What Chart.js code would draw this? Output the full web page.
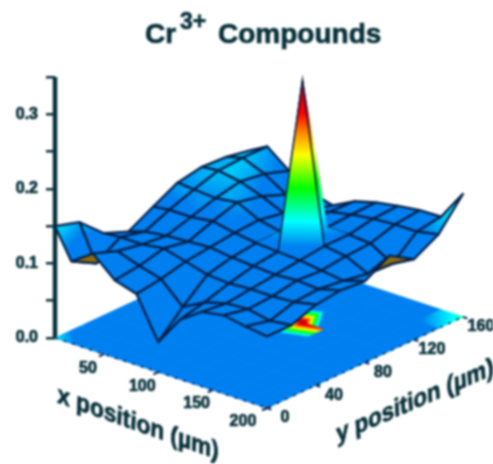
<!DOCTYPE html>
<html lang="en">

<head>
    <meta charset="UTF-8">
    <title>Cr3+ Compounds</title>
    <script src="https://cdn.jsdelivr.net/npm/chart.js"></script>
    <style>
        html, body { margin: 0; padding: 0; background: #fff; }
        canvas { display: block; filter: blur(0.8px); }
    </style>
</head>

<body>
    <canvas id="myChart" width="493" height="464"></canvas>

    <script>
        // values
        const xPositions = [5, 20, 40, 60, 80, 100, 120, 140, 160, 180, 200]
        const yPositions = [0, 20, 40, 60, 80, 100, 120, 140, 160]
        const row5 = [.150, .140, .110, .097, .115, .132, .138, .136, .130]
        const row20 = [.110, .092, .112, .104, .118, .130, .140, .142, .142]
        const row40 = [.130, .118, .112, .108, .118, .128, .135, .130, .119]
        const row60 = [.104, .108, .116, .110, .122, .132, .125, .112, .100]
        const row80 = [.095, .100, .108, .112, .116, .118, .112, .100, .092]
        const row100 = [.040, .072, .100, .108, .112, .112, .110, .108, .107]
        const row120 = [.080, .088, .098, .106, .110, .325, .112, .114, .115]
        const row140 = [.100, .096, .100, .104, .108, .112, .112, .118, .120]
        const row160 = [.105, .098, .100, .106, .104, .108, .110, .120, .124]
        const row180 = [.100, .092, .102, .104, .100, .094, .092, .120, .125]
        const row200 = [.096, .096, .108, .112, .109, .128, .108, .126, .165]
        const heights = [row5, row20, row40, row60, row80, row100, row120, row140, row160, row180, row200]

        const zTicks = [0, .05, .1, .15, .2, .25, .3, .35]
        const zLabels = [0, .1, .2, .3]
        const xTicks = [50, 100, 150, 200]
        const yTicks = [0, 40, 80, 120, 160]

        // height -> colour
        const colourStops = [
            [0, '#0080f0'], [.125, '#0080f0'], [.155, '#00ffff'], [.195, '#00ff00'],
            [.235, '#ffff00'], [.26, '#ff9000'], [.285, '#ff0000'], [.33, '#a00020']
        ]

        const ink = '#07303a'
        const gridInk = '#04204a'
        const undersideColour = '#8a6c12'

        // oblique view: scale units are pixels across and z units up
        const pxPerZ = 745.7
        function project(x, y, z) {
            const dx = x - xPositions[0]
            return {
                x: dx * 1.087 + y * 1.225,
                y: z - (dx * 0.359 - y * 0.569) / pxPerZ
            }
        }

        function mix(a, b, t) {
            const pa = parseInt(a.slice(1), 16), pb = parseInt(b.slice(1), 16)
            const ch = s => Math.round(((pa >> s) & 255) * (1 - t) + ((pb >> s) & 255) * t)
            return `rgb(${ch(16)},${ch(8)},${ch(0)})`
        }

        function colourAt(z) {
            for (let i = 1; i < colourStops.length; i++) {
                if (z <= colourStops[i][0]) {
                    const [z0, c0] = colourStops[i - 1], [z1, c1] = colourStops[i]
                    return mix(c0, c1, (z - z0) / (z1 - z0))
                }
            }
            return colourStops[colourStops.length - 1][1]
        }

        // gradient across one cell, from its lowest corner to its highest
        function cellPaint(context, corners) {
            const { scales, ctx } = context.chart
            const pts = corners.map(c => ({
                px: scales.x.getPixelForValue(c.p.x),
                py: scales.y.getPixelForValue(c.p.y),
                z: c.z
            }))
            // scales are not laid out yet on the first pass
            if (pts.some(p => !isFinite(p.px) || !isFinite(p.py))) return colourAt(corners[0].z)
            const floor = corners[0].floor
            const spike = Math.max(...pts.map(p => p.z)) > .2
            if (!floor) {
                let area = 0
                for (let i = 0; i < 4; i++) {
                    const a = pts[i], b = pts[(i + 1) % 4]
                    area += a.px * b.py - b.px * a.py
                }
                if (area > 0 && !spike) return undersideColour
            }
            const low = pts.reduce((m, p) => p.z < m.z ? p : m)
            const high = pts.reduce((m, p) => p.z > m.z ? p : m)
            if (high.z - low.z < 1e-6) return colourAt(low.z)
            // the hot patch on the floor is tighter than the spike's foot
            const lead = floor && spike ? .18 : 0
            const g = ctx.createLinearGradient(
                low.px + (high.px - low.px) * lead, low.py + (high.py - low.py) * lead, high.px, high.py)
            g.addColorStop(0, colourAt(low.z))
            colourStops.forEach(([z]) => {
                if (z > low.z && z < high.z) g.addColorStop((z - low.z) / (high.z - low.z), colourAt(z))
            })
            g.addColorStop(1, colourAt(high.z))
            return g
        }

        function cellDataset(i, j, floor) {
            const idx = [[i, j], [i + 1, j], [i + 1, j + 1], [i, j + 1]]
            const corners = idx.map(([a, b]) => {
                const z = heights[a][b]
                return { p: project(xPositions[a], yPositions[b], floor ? 0 : z), z: z, floor: floor }
            })
            const paint = context => cellPaint(context, corners)
            // the spike has no mesh lines on it, only its outline
            const plain = floor || corners.some(c => c.z > .2)
            return {
                data: corners.concat(corners[0]).map(c => c.p),
                showLine: true,
                fill: 'shape',
                backgroundColor: paint,
                borderColor: plain ? paint : gridInk,
                borderWidth: plain ? 1 : 2.3,
                borderJoinStyle: 'round',
                pointRadius: 0,
                clip: false
            }
        }

        function lineDataset(points, width, dash) {
            return {
                data: points,
                showLine: true,
                fill: false,
                borderColor: gridInk,
                borderWidth: width,
                borderDash: dash || [],
                pointRadius: 0,
                clip: false
            }
        }

        function surfacePoint(a, b) {
            return project(xPositions[a], yPositions[b], heights[a][b])
        }

        // chart.js paints the first dataset last, so go from the front cell to the back one
        const datasets = []
        datasets.push(lineDataset([surfacePoint(6, 4), surfacePoint(6, 5), surfacePoint(7, 5)], 1.6))
        for (let i = xPositions.length - 2; i >= 0; i--) {
            for (let j = 0; j < yPositions.length - 1; j++) {
                datasets.push(cellDataset(i, j, false))
            }
        }
        const lastX = xPositions[xPositions.length - 1]
        const lastY = yPositions[yPositions.length - 1]
        xTicks.forEach(v => datasets.push(lineDataset([project(v, 0, 0), project(v, -4, 0)], 2)))
        yTicks.forEach(v => datasets.push(lineDataset([project(lastX, v, 0), project(lastX + 4, v, 0)], 2)))
        datasets.push(lineDataset([project(xPositions[0], 0, 0), project(lastX, 0, 0), project(lastX, lastY, 0)], 1.5, [3, 6]))
        for (let i = xPositions.length - 2; i >= 0; i--) {
            for (let j = 0; j < yPositions.length - 1; j++) {
                datasets.push(cellDataset(i, j, true))
            }
        }
        const zAxis = lineDataset([{ x: 0, y: 0 }, { x: 0, y: .35 }], 4.5)
        zAxis.borderColor = ink
        datasets.push(zAxis)

        const labelsPlugin = {
            id: 'labels3d',
            afterDraw(chart) {
                const { ctx, scales } = chart
                const toPx = p => ({ x: scales.x.getPixelForValue(p.x), y: scales.y.getPixelForValue(p.y) })
                const heavyText = (text, x, y) => {
                    ctx.fillText(text, x, y)
                    ctx.strokeText(text, x, y)
                }
                ctx.save()
                ctx.fillStyle = ink
                ctx.strokeStyle = ink
                ctx.lineWidth = 0.7
                ctx.textBaseline = 'middle'

                // title, the superscript needs its own run
                ctx.textAlign = 'left'
                ctx.font = 'bold 28px "Liberation Sans", Arial, sans-serif'
                heavyText('Cr', 145, 35)
                ctx.font = 'bold 23px "Liberation Sans", Arial, sans-serif'
                heavyText('3+', 180, 23)
                ctx.font = 'bold 28px "Liberation Sans", Arial, sans-serif'
                heavyText('Compounds', 218, 35)

                ctx.textAlign = 'center'
                ctx.font = 'bold 16px "Liberation Sans", Arial, sans-serif'
                xTicks.forEach(v => {
                    const p = toPx(project(v, 0, 0))
                    const shift = v === lastX ? -24 : -16
                    heavyText(String(v), p.x + shift, p.y + 14)
                })
                yTicks.forEach(v => {
                    const p = toPx(project(lastX, v, 0))
                    heavyText(String(v), p.x + 18, p.y + 10)
                })

                ctx.font = 'bold 24px "Liberation Sans", Arial, sans-serif'
                const midX = toPx(project((xPositions[0] + lastX) / 2, 0, 0))
                ctx.save()
                ctx.translate(midX.x - 23, midX.y + 51)
                ctx.rotate(19.5 * Math.PI / 180)
                ctx.transform(1, 0, 0.3, 1, 0, 0)
                heavyText('x position (\u00b5m)', 0, 0)
                ctx.restore()

                const midY = toPx(project(lastX, lastY / 2, 0))
                ctx.save()
                ctx.translate(midY.x + 50, midY.y + 39)
                ctx.rotate(-23.5 * Math.PI / 180)
                ctx.transform(1, 0, -0.35, 1, 0, 0)
                heavyText('y position (\u00b5m)', 0, 0)
                ctx.restore()
                ctx.restore()
            }
        }

        new Chart(document.getElementById('myChart'), {
            type: 'scatter',
            data: { datasets: datasets },
            plugins: [labelsPlugin],
            options: {
                responsive: false,
                animation: false,
                events: [],
                layout: { padding: { top: 77, bottom: 4, left: 0, right: 3 } },
                plugins: { legend: { display: false }, tooltip: { enabled: false } },
                scales: {
                    x: { type: 'linear', display: false, min: 0, max: 435 },
                    y: {
                        type: 'linear',
                        min: (338 - 460) / pxPerZ,
                        max: .35,
                        afterBuildTicks: scale => { scale.ticks = zTicks.map(v => ({ value: v })) },
                        afterFit: scale => {
                            scale.width = 55
                            scale.paddingTop = 0
                            scale.paddingBottom = 0
                        },
                        border: { display: false },
                        grid: { drawOnChartArea: false, drawTicks: true, tickLength: 9, color: ink, lineWidth: 2.5 },
                        ticks: {
                            autoSkip: false,
                            maxRotation: 0,
                            padding: 8,
                            color: ink,
                            textStrokeColor: ink,
                            textStrokeWidth: 0.7,
                            font: { family: '"Liberation Sans", Arial, sans-serif', weight: 'bold', size: 16 },
                            callback: v => zLabels.includes(v) ? v.toFixed(1) : ''
                        }
                    }
                }
            }
        })
    </script>
</body>

</html>
